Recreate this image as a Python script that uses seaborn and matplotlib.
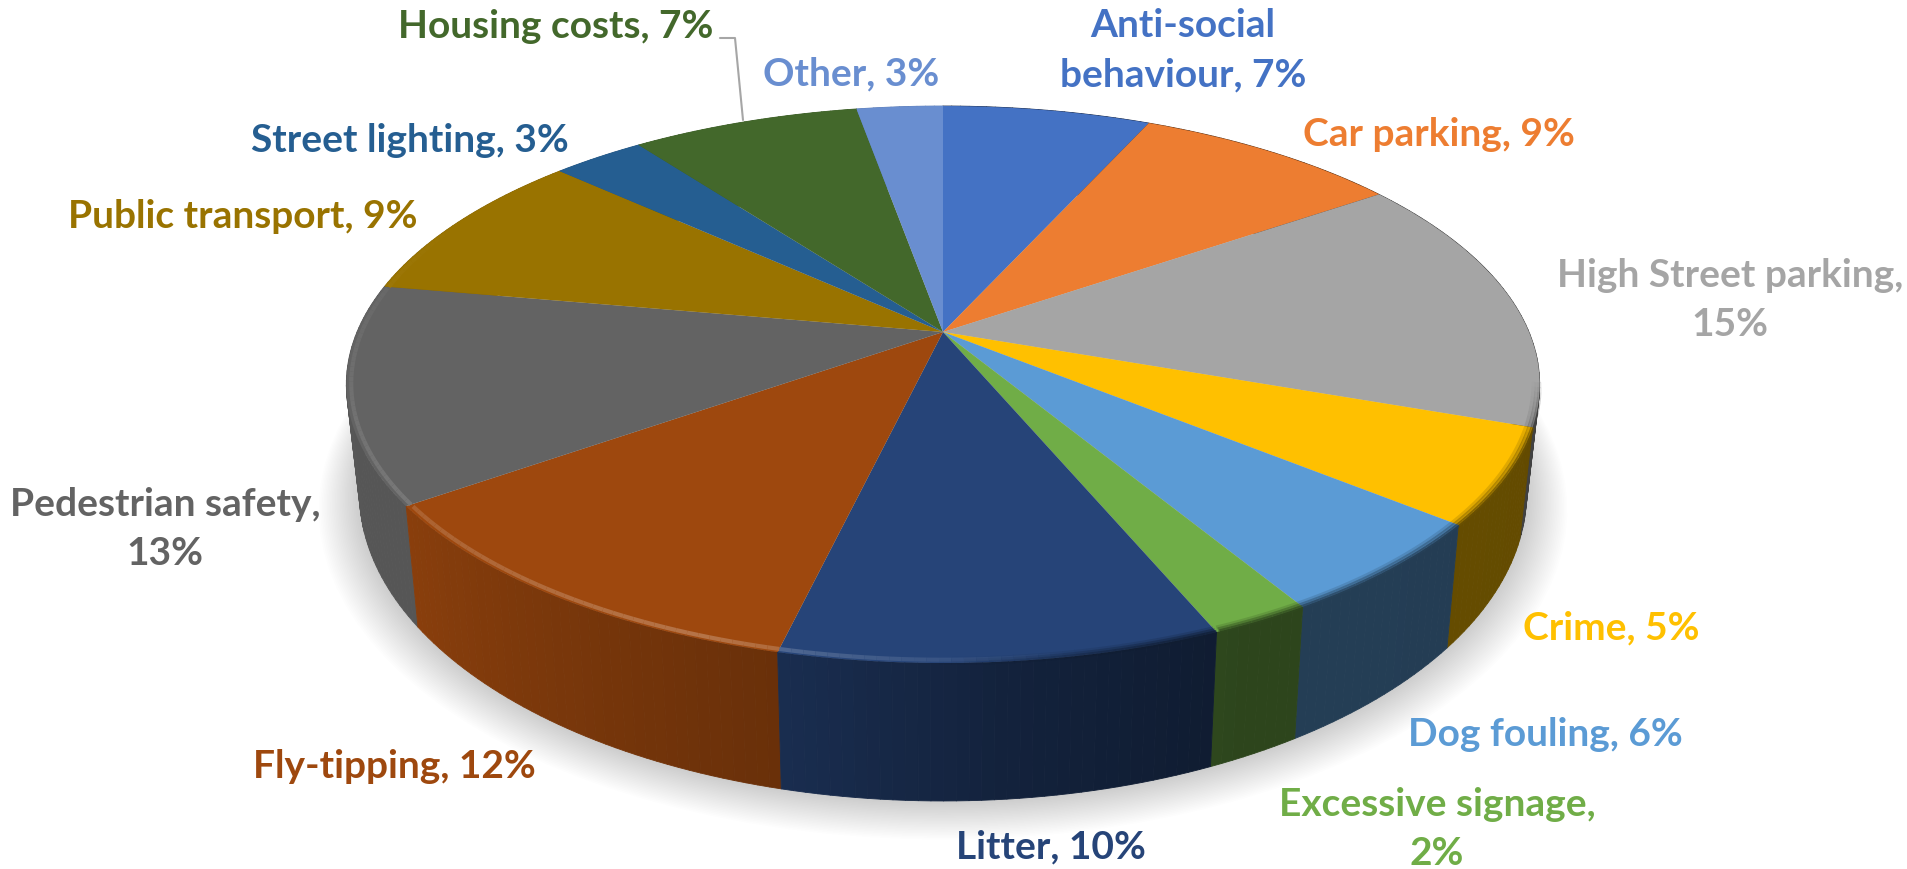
import numpy as np
import matplotlib
matplotlib.use("Agg")
import matplotlib.pyplot as plt
import seaborn as sns
from matplotlib.collections import LineCollection, PolyCollection
from matplotlib.path import Path
from matplotlib.patches import Polygon
from matplotlib.transforms import Transform

categories = ["Anti-social\nbehaviour", "Car parking", "High Street parking", "Crime", "Dog fouling",
              "Excessive signage", "Litter", "Fly-tipping", "Pedestrian safety", "Public transport",
              "Street lighting", "Housing costs", "Other"]
# slice sizes, the labels show the rounded figures
values = [6.75, 8.65, 15.0, 5.5, 5.5, 2.3, 10.0, 11.5, 12.6, 9.0, 3.0, 7.4, 2.8]
shown_pct = [7, 9, 15, 5, 6, 2, 10, 12, 13, 9, 3, 7, 3]
colors = ["#4472C4", "#ED7D31", "#A5A5A5", "#FFC000", "#5B9BD5", "#70AD47", "#264478",
          "#9E480E", "#636363", "#997300", "#255E91", "#43682B", "#698ED0"]

# label centres and line breaks, in pixels of the 1908x869 image
label_xy = [(1183, 50), (1439, 135), (1730, 300), (1611, 628), (1545, 735), (1437, 829),
            (1051, 847), (394, 767), (165, 529), (243, 217), (410, 140), (556, 26), (851, 74)]
label_text = ["Anti-social\nbehaviour, {}%", "Car parking, {}%", "High Street parking,\n{}%", "Crime, {}%",
              "Dog fouling, {}%", "Excessive signage,\n{}%", "Litter, {}%", "Fly-tipping, {}%",
              "Pedestrian safety,\n{}%", "Public transport, {}%", "Street lighting, {}%",
              "Housing costs, {}%", "Other, {}%"]

CX, CY = 943, 332
A, B, C = 586, 268.6, 0.1885
THICK = 103


class Tilt(Transform):
    # unit circle of the pie -> tilted disc in image pixels
    input_dims = 2
    output_dims = 2

    def transform_non_affine(self, xy):
        xy = np.asarray(xy, dtype=float)
        d = 1 + C * xy[:, 1]
        return np.column_stack([CX + A * xy[:, 0] / d, CY - B * xy[:, 1] / d])

    def transform_path_non_affine(self, path):
        p = path.interpolated(24) if path.codes is None else path
        return Path(self.transform_non_affine(p.vertices), p.codes)


tilt = Tilt()


def top_pts(theta, r=1.0):
    t = np.radians(theta)
    return tilt.transform_non_affine(np.column_stack([r * np.sin(t), r * np.cos(t)]))


def bottom_pts(theta):
    p = top_pts(theta)
    v = np.cos(np.radians(theta))
    return np.column_stack([CX + (p[:, 0] - CX) * 0.978, p[:, 1] + THICK / (1 + C * v) ** 1.4])


sns.set_theme(style="white")
plt.rcParams["font.family"] = ["Lato", "DejaVu Sans"]
palette = sns.color_palette(colors)

fig = plt.figure(figsize=(19.08, 8.69), dpi=100)
ax = fig.add_axes([0, 0, 1, 1])

wedges, _ = ax.pie(values, colors=palette, startangle=90, counterclock=False, radius=1,
                   wedgeprops={"linewidth": 0})
ax.set_aspect("auto")
ax.set_xlim(0, 1908)
ax.set_ylim(869, 0)
ax.axis("off")

edges = np.cumsum([0] + values) / sum(values) * 360

# soft shadow under the disc
all_t = np.arange(0, 361, 3.0)
base = bottom_pts(all_t)
mid = np.array([CX, CY + 60])
for k in np.linspace(1.07, 1.0, 26):
    pts = mid + (base - mid) * [k, k] + [0, 10 * (k - 1) / 0.07]
    ax.add_patch(Polygon(pts, closed=True, fc="#000000", ec="none", alpha=0.006, zorder=1))


def side_shade(theta):
    return np.interp(theta, [100, 155, 175, 194, 235, 275], [0.39, 0.40, 0.5, 0.67, 0.87, 0.88])


# side wall, back to front, as thin strips
strips = []
for col, t0, t1 in zip(palette, edges[:-1], edges[1:]):
    n = max(int(t1 - t0), 2)
    ts = np.linspace(t0, t1, n + 1)
    for a, b in zip(ts[:-1], ts[1:]):
        pair = np.array([a, b])
        tp, bt = top_pts(pair), bottom_pts(pair)
        shade = side_shade((a + b) / 2)
        strips.append((np.cos(np.radians((a + b) / 2)), np.vstack([tp, bt[::-1]]), np.array(col) * shade))
strips.sort(key=lambda s: -s[0])
side = PolyCollection([s[1] for s in strips], facecolors=[s[2] for s in strips],
                      edgecolors=[s[2] for s in strips], linewidths=0.6, zorder=2)
ax.add_collection(side)

for w in wedges:
    w.set_transform(tilt + ax.transData)
    w.set_zorder(3)
    w.set_clip_on(False)

# bevel along the rim: light on the left, dark and blurred on the right
segs, seg_cols = [], []
for col, t0, t1 in zip(palette, edges[:-1], edges[1:]):
    ts = np.arange(t0, t1 + 0.5, 1.0)
    ts[-1] = min(ts[-1], t1)
    for a, b in zip(ts[:-1], ts[1:]):
        m = (a + b) / 2
        light = np.interp(m, [170, 200, 240, 295], [0, 0.24, 0.12, 0])
        if light > 0:
            segs.append(top_pts(np.array([a, b]), 0.992))
            seg_cols.append(tuple(np.array(col) + (1 - np.array(col)) * light) + (1.0,))
ax.add_collection(LineCollection(segs, colors=seg_cols, linewidths=3, zorder=4, capstyle="butt"))

for r, alpha, lw in [(1.0, 0.7, 3), (0.995, 0.4, 3), (0.99, 0.2, 3)]:
    segs, seg_cols = [], []
    for col, t0, t1 in zip(palette, edges[:-1], edges[1:]):
        ts = np.arange(t0, t1 + 0.5, 1.0)
        ts[-1] = min(ts[-1], t1)
        for a, b in zip(ts[:-1], ts[1:]):
            m = (a + b) / 2
            fade = np.interp(m, [100, 112, 160, 180], [0, 1, 1, 0])
            if fade > 0:
                segs.append(top_pts(np.array([a, b]), r))
                seg_cols.append(tuple(np.array(col) * 0.42) + (alpha * fade,))
    ax.add_collection(LineCollection(segs, colors=seg_cols, linewidths=lw, zorder=4, capstyle="butt"))

# labels
for (x, y), txt, pct, col in zip(label_xy, label_text, shown_pct, palette):
    ax.text(x, y, txt.format(pct), color=col, ha="center", va="center", fontsize=28, fontweight="bold",
            linespacing=1.5, zorder=6)

ax.plot([720, 735, 743], [38, 38, 120], color="#A6A6A6", lw=1.5, zorder=5)

fig.savefig("out.png", dpi=100, facecolor="white")
